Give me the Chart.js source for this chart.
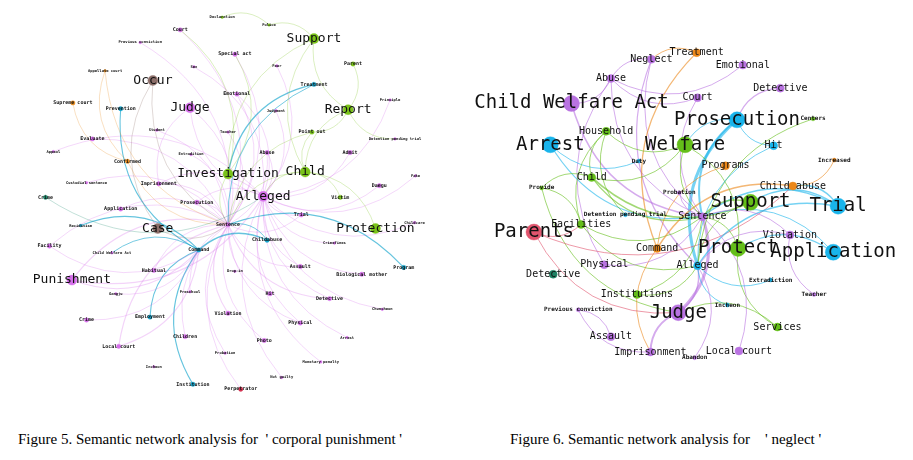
<!DOCTYPE html>
<html>
<head>
<meta charset="utf-8">
<script src="https://cdn.jsdelivr.net/npm/chart.js@4.4.1/dist/chart.umd.min.js"></script>
<style>
  body { margin: 0; background: #fff; width: 913px; height: 460px; overflow: hidden; position: relative; }
  canvas { position: absolute; top: 0; }
  #leftNet { left: 0; }
  #rightNet { left: 460px; }
  .cap { position: absolute; top: 431px; font-family: "Liberation Serif", "Times New Roman", serif; font-size: 15px; color: #000; white-space: pre; }
</style>
</head>
<body>
<canvas id="leftNet" width="460" height="420"></canvas>
<canvas id="rightNet" width="453" height="420"></canvas>
<div class="cap" style="left:18px">Figure 5. Semantic network analysis for  ' corporal punishment '</div>
<div class="cap" style="left:510px">Figure 6. Semantic network analysis for    ' neglect '</div>
<script>
// ---- Figure 5: corporal punishment ----
const leftNames = ['Court','Declaration','Police','Previous conviction','Special act','Sex','Appellate court','Occur',
  'Supreme court','Prevention','Judge','Student','Evaluate','Appeal','Confirmed','Extradition','Custodial sentence',
  'Imprisonment','Crime','Prosecution','Investigation','Application','Case','Recidivism','Facility','Child Welfare Act',
  'Command','Habitual','Punishment','Gangju','Preschool','Employment','Crime','Children','Local court','Incheon',
  'Institution','Violation','Probation','Perpetrator','Not guilty','Photo','Monetary penalty','Physical','Arrest',
  'Chuncheon','Detective','Hit','Biological mother','Program','Assault','Drop-in','Childabuse','Crimefines',
  'Protection','Childcare','Trial','Sentence','Alleged','Child','Abuse','Point out','Admit','Daegu','Fake','Victim',
  'Detention pending trial','Principle','Report','Parent','Treatment','Support','Fear','Judgment','Emotional','Teacher'];
const leftX = [179,222,270,138,235,193,102,151,69,118,189,155,89,49,125,190,83,157,41,196,228,118,156,77,45,109,
  198,152,68,113,189,148,83,184,116,152,192,228,225,241,283,265,323,302,350,386,332,271,365,408,302,235,268,337,
  379,419,303,228,264,307,268,314,353,383,420,343,399,394,351,356,316,316,278,277,237,228];
const leftY = [25,12,20,38,50,63,67,77,100,106,105,128,137,150,160,153,182,183,197,202,173,209,229,226,247,254,
  251,272,282,296,294,320,323,340,350,371,389,316,357,394,382,344,366,326,341,312,301,296,276,269,268,273,241,244,
  229,223,215,225,196,171,151,130,151,185,175,197,137,97,107,60,81,34,62,108,91,130];
const leftFreq = [12,4,4,4,12,4,4,100,12,12,100,4,12,4,12,4,4,12,12,12,100,12,100,4,12,4,
  12,12,100,4,4,12,12,12,12,4,12,12,4,12,4,12,4,12,4,4,12,12,12,12,12,4,12,4,
  100,4,12,12,100,100,12,12,12,12,4,12,4,4,100,12,12,100,4,4,12,4];
const leftGroup = ['p','g','g','p','p','p','o','b','o','t','p','p','p','p','o','p','p','p','d','p','g','p','b','t','p','p',
  't','p','p','p','p','t','p','p','p','p','t','p','p','r','p','p','p','p','p','p','p','p','p','t','p','p','t','p',
  'g','p','p','p','p','g','p','g','p','p','p','g','p','p','g','g','t','g','p','p','p','p'];
const leftEdges = [
  ['Sentence','Court'],['Sentence','Judge'],['Sentence','Special act'],['Sentence','Imprisonment'],['Sentence','Prosecution'],
  ['Sentence','Habitual'],['Sentence','Punishment',1.3],['Sentence','Preschool'],['Sentence','Children'],['Sentence','Local court',1.3],
  ['Sentence','Violation',1.3],['Sentence','Probation'],['Sentence','Photo'],['Sentence','Physical'],['Sentence','Assault'],
  ['Sentence','Detective',1.3],['Sentence','Hit'],['Sentence','Trial'],['Sentence','Emotional'],['Sentence','Teacher'],
  ['Sentence','Abuse'],['Sentence','Application'],['Sentence','Facility'],['Sentence','Evaluate'],['Sentence','Perpetrator'],
  ['Sentence','Student'],['Sentence','Extradition'],['Sentence','Custodial sentence'],['Sentence','Previous conviction'],
  ['Alleged','Abuse'],['Alleged','Emotional'],['Alleged','Sex'],['Alleged','Fear'],['Alleged','Judgment'],['Alleged','Admit'],
  ['Alleged','Trial'],['Alleged','Assault'],['Alleged','Physical'],['Alleged','Monetary penalty'],['Alleged','Not guilty'],
  ['Alleged','Detective'],['Alleged','Biological mother'],['Alleged','Arrest'],['Alleged','Daegu'],['Alleged','Chuncheon'],
  ['Alleged','Crimefines'],['Alleged','Principle'],['Alleged','Fake'],['Alleged','Childcare'],['Judge','Alleged'],
  ['Alleged','Appeal'],['Alleged','Imprisonment',1.3],['Alleged','Prosecution'],['Punishment','Alleged',1.3],
  ['Command','Recidivism',1.2],['Command','Institution',1.3],['Command','Employment',1.2],['Prevention','Command',1.2],
  ['Command','Child Welfare Act'],['Punishment','Command',1.2],[32,'Command'],['Local court','Command',1.2],
  ['Gangju','Command'],['Habitual','Command'],['Facility','Command'],
  ['Childabuse','Command',1.8],['Program','Sentence',1.2],['Childabuse','Sentence'],
  ['Treatment','Investigation',1.5],['Treatment','Sentence'],
  ['Support','Child'],['Support','Police'],['Support','Report'],['Report','Parent'],['Report','Child'],['Point out','Child'],
  ['Point out','Report'],['Victim','Child'],['Protection','Child'],['Support','Investigation'],['Police','Declaration'],
  ['Child','Alleged'],['Child','Sentence'],['Investigation','Sentence'],['Investigation','Court'],['Investigation','Special act'],
  ['Report','Detention pending trial'],['Point out','Sentence'],
  ['Supreme court','Confirmed'],['Appellate court','Confirmed'],['Confirmed','Sentence'],['Appellate court','Sentence'],
  ['Occur','Case'],['Case','Sentence'],['Occur','Sentence'],['Crime','Alleged'],['Judge','Imprisonment']
];

// ---- Figure 6: neglect ----
const rightNames = ['Neglect','Abuse','Child Welfare Act','Household','Arrest','Welfare','Duty','Child','Provide','Probation',
  'Detention pending trial','Facilities','Sentence','Parents','Command','Physical','Detective','Institutions',
  'Previous conviction','Judge','Assault','Imprisonment','Alleged','Protect','Support','Programs','Prosecution',
  'Treatment','Emotional','Detective','Court','Centers','Hit','Increased','Child abuse','Trial','Violation',
  'Application','Extradiction','Teacher','Incheon','Services','Local court','Abandon'];
const rightX = [650,608,567,603,545,685,637,588,536,679,623,577,703,528,656,601,548,635,574,678,608,649,698,740,753,
  727,739,697,745,784,698,818,777,840,797,844,794,839,774,819,729,781,741,695];
const rightY = [53,73,99,128,142,142,159,176,187,192,215,225,217,233,250,267,277,298,314,317,342,358,268,250,202,
  164,116,46,59,83,93,115,143,158,185,206,236,254,283,298,309,332,357,364];
const rightFreq = [30,30,100,30,100,100,5,30,5,5,5,30,30,100,30,30,30,30,5,100,30,30,30,100,100,
  30,100,30,30,30,30,5,30,5,30,100,30,100,5,5,5,30,30,5];
const rightGroup = ['p','p','p','g','c','g','c','g','g','p','c','g','p','r','o','p','d','g','p','p','p','p','c','g','g',
  'o','c','o','p','p','p','g','c','o','o','c','p','c','c','p','c','g','p','p'];
const rightEdges = [
  ['Neglect','Abuse'],['Neglect','Alleged',1.2],['Neglect','Sentence'],['Abuse','Emotional'],['Abuse','Court'],
  ['Abuse','Sentence'],['Abuse','Physical'],['Child Welfare Act','Sentence',1.5],['Child Welfare Act','Abuse'],
  ['Treatment','Command',1.3],['Treatment','Neglect'],['Arrest','Sentence',1.2],['Arrest','Duty'],
  ['Household','Child'],['Household','Welfare'],['Household','Detention pending trial'],['Household','Facilities'],
  ['Child','Support',1.6],['Child','Provide'],['Child','Sentence',1.2],['Child','Welfare'],['Provide','Judge'],
  ['Facilities','Alleged'],['Facilities','Provide'],['Facilities','Sentence'],['Parents','Facilities'],
  ['Prosecution','Alleged',3],['Prosecution','Sentence',2],['Prosecution','Hit'],['Prosecution','Welfare'],
  [29,'Prosecution',1.3],['Court','Sentence'],['Judge','Sentence',3],['Judge','Imprisonment',2],['Judge','Alleged',1.5],
  ['Trial','Support',1.6],['Parents','Child abuse'],['Trial','Alleged',1.5],['Trial','Sentence',1.5],
  ['Trial','Child abuse',1.5],['Child abuse','Increased'],['Child abuse','Command',1.6],['Application','Protect',1.2],
  ['Application','Sentence'],['Protect','Sentence'],['Protect','Services'],['Protect','Welfare'],['Local court','Sentence'],
  ['Alleged','Extradiction'],['Alleged','Incheon'],['Violation','Alleged'],['Violation','Teacher'],['Violation','Sentence'],
  ['Centers','Alleged'],['Hit','Alleged'],['Programs','Command'],['Command','Imprisonment'],
  ['Assault','Previous conviction'],['Previous conviction','Imprisonment'],['Physical','Sentence'],['Services','Judge'],
  ['Abandon','Alleged'],['Institutions','Alleged'],['Institutions','Sentence'],['Probation','Sentence'],
  ['Welfare','Sentence'],['Support','Sentence',1.5],['Support','Alleged'],['Parents','Judge']
];

const leftColors = { p: '214,112,235', g: '122,195,25', b: '140,110,105', t: '20,165,205', o: '232,140,30', r: '210,50,80', d: '30,140,110' };
const rightColors = { p: '185,115,225', g: '100,190,25', c: '25,180,235', o: '235,135,25', r: '225,85,110', d: '30,130,100' };

function networkPlugin(net) {
  const idx = v => typeof v === 'number' ? v : net.names.indexOf(v);
  return {
    id: 'network',
    beforeDatasetsDraw(chart) {
      const ctx = chart.ctx, sx = chart.scales.x, sy = chart.scales.y;
      ctx.save();
      net.edges.forEach(e => {
        const a = idx(e[0]), b = idx(e[1]);
        const x1 = sx.getPixelForValue(net.x[a]), y1 = sy.getPixelForValue(net.y[a]);
        const x2 = sx.getPixelForValue(net.x[b]), y2 = sy.getPixelForValue(net.y[b]);
        const cx = (x1 + x2) / 2 - (y2 - y1) * 0.33, cy = (y1 + y2) / 2 + (x2 - x1) * 0.33;
        const g = net.group[a];
        ctx.strokeStyle = 'rgba(' + net.colors[g] + ',' + (net.alpha[g] || net.alpha.def) + ')';
        ctx.lineWidth = net.lineWidth * (e[2] || 1);
        ctx.beginPath();
        ctx.moveTo(x1, y1);
        ctx.quadraticCurveTo(cx, cy, x2, y2);
        ctx.stroke();
      });
      ctx.restore();
    },
    afterDatasetsDraw(chart) {
      const ctx = chart.ctx, sx = chart.scales.x, sy = chart.scales.y;
      ctx.save();
      ctx.textAlign = 'center';
      ctx.textBaseline = 'middle';
      ctx.fillStyle = '#111';
      net.names.forEach((n, i) => {
        const size = net.fontSize(net.freq[i]);
        ctx.font = (size < 7 ? 'bold ' : '') + size + 'px "DejaVu Sans Mono", monospace';
        ctx.fillText(n, sx.getPixelForValue(net.x[i]), sy.getPixelForValue(net.y[i]));
      });
      ctx.restore();
    }
  };
}

function drawNetwork(id, net, xMin, xMax) {
  new Chart(document.getElementById(id), {
    type: 'scatter',
    data: {
      datasets: [{
        data: net.x.map((v, i) => ({ x: v, y: net.y[i] })),
        pointRadius: net.freq.map(net.radius),
        backgroundColor: net.group.map(g => 'rgb(' + net.colors[g] + ')'),
        borderColor: net.group.map(g => 'rgba(' + net.colors[g] + ',0.8)'),
        borderWidth: 0.5
      }]
    },
    options: {
      responsive: false,
      animation: false,
      layout: { padding: 0 },
      plugins: { legend: { display: false }, tooltip: { enabled: false } },
      scales: {
        x: { type: 'linear', min: xMin, max: xMax, display: false },
        y: { type: 'linear', min: 0, max: 420, reverse: true, display: false }
      }
    },
    plugins: [networkPlugin(net)]
  });
}

drawNetwork('leftNet', {
  names: leftNames, x: leftX, y: leftY, freq: leftFreq, group: leftGroup, edges: leftEdges,
  colors: leftColors, alpha: { def: 0.3, p: 0.3, t: 0.65 }, lineWidth: 0.9,
  radius: f => f >= 50 ? 5 : f >= 10 ? 2.2 : 1.3,
  fontSize: f => f >= 50 ? 13 : f >= 10 ? 5 : 3.8
}, 0, 460);

drawNetwork('rightNet', {
  names: rightNames, x: rightX, y: rightY, freq: rightFreq, group: rightGroup, edges: rightEdges,
  colors: rightColors, alpha: { def: 0.6 }, lineWidth: 1,
  radius: f => f >= 50 ? 8 : f >= 20 ? 4 : 2,
  fontSize: f => f >= 50 ? 19 : f >= 20 ? 10 : 6
}, 460, 913);
</script>
</body>
</html>
